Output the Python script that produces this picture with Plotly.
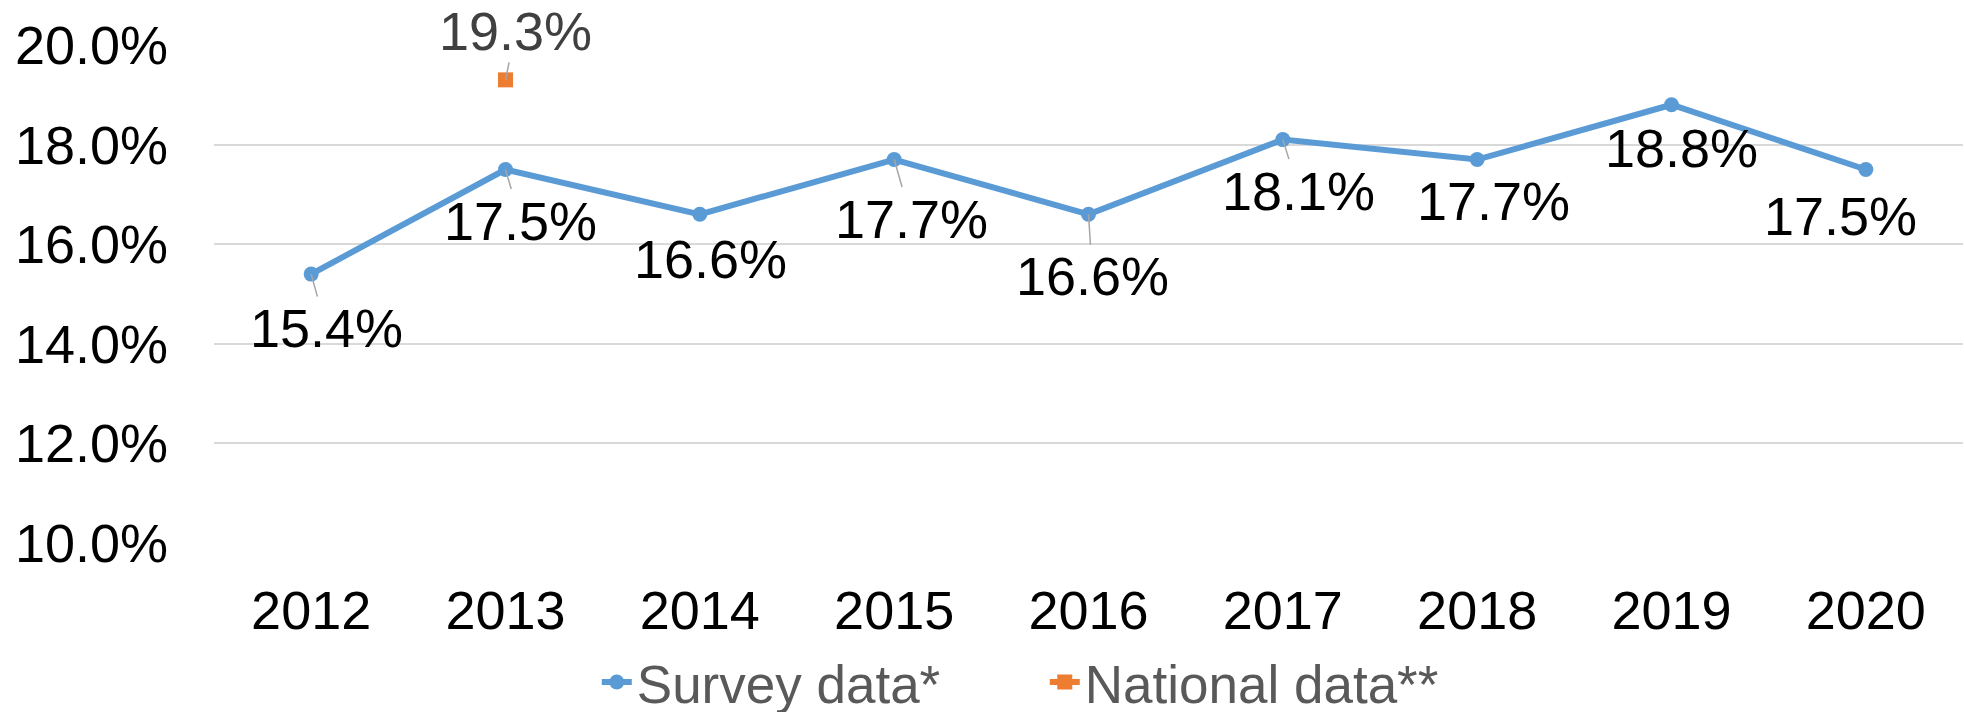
import plotly.graph_objects as go

years = [2012, 2013, 2014, 2015, 2016, 2017, 2018, 2019, 2020]
survey = [0.154, 0.175, 0.166, 0.177, 0.166, 0.181, 0.177, 0.188, 0.175]
national_years = [2013]
national = [0.193]
y_ticks = [0.10, 0.12, 0.14, 0.16, 0.18, 0.20]

# label offsets (px) from the point and whether a leader line is shown
survey_off = [(15, 54), (15, 51), (11, 45), (17, 59), (4, 62), (16, 51), (16, 41), (10, 43), (-25, 46)]
survey_leader = [True, True, False, True, True, True, False, False, False]
national_off = [(10, -49)]

BLUE = "#5B9BD5"
ORANGE = "#ED7D31"
FONT = "Liberation Sans, Arial, sans-serif"
FS = 54

fig = go.Figure()
fig.add_trace(go.Scatter(
    x=years, y=survey, mode="lines+markers", name="Survey data*",
    line=dict(color=BLUE, width=6), marker=dict(color=BLUE, size=15),
    cliponaxis=False,
))
fig.add_trace(go.Scatter(
    x=national_years, y=national, mode="lines+markers", name="National data**",
    line=dict(color=ORANGE, width=6), marker=dict(color=ORANGE, size=15, symbol="square"),
    cliponaxis=False,
))

for x, v, (ax, ay), lead in zip(years, survey, survey_off, survey_leader):
    fig.add_annotation(
        x=x, y=v, text=f"{v*100:.1f}%", showarrow=True, ax=ax, ay=ay,
        arrowhead=0, arrowwidth=1.5,
        arrowcolor="#A6A6A6" if lead else "rgba(0,0,0,0)",
        font=dict(family=FONT, size=FS, color="#000000"),
    )
for x, v, (ax, ay) in zip(national_years, national, national_off):
    fig.add_annotation(
        x=x, y=v, text=f"{v*100:.1f}%", showarrow=True, ax=ax, ay=ay,
        arrowhead=0, arrowwidth=1.5, arrowcolor="#A6A6A6",
        font=dict(family=FONT, size=FS, color="#404040"),
    )

fig.update_layout(
    width=1964, height=712,
    margin=dict(l=214, r=1, t=44, b=168, autoexpand=False),
    paper_bgcolor="white", plot_bgcolor="white",
    font=dict(family=FONT, size=FS, color="#000000"),
    showlegend=True,
    legend=dict(
        orientation="h", x=0.475, xanchor="center", y=-0.276, yanchor="middle",
        font=dict(family=FONT, size=53, color="#595959"),
        bgcolor="rgba(0,0,0,0)", entrywidth=403, entrywidthmode="pixels",
    ),
)
fig.update_xaxes(
    range=[2011.5, 2020.5], tickvals=years, showgrid=False, showline=False, zeroline=False,
    ticks="", ticklabelstandoff=30,
    tickfont=dict(family=FONT, size=FS, color="#000000"),
)
fig.update_yaxes(
    range=[0.0998, 0.2002], tickvals=y_ticks, tickformat=".1%",
    showgrid=True, gridcolor="#D9D9D9", gridwidth=2,
    showline=False, zeroline=False, ticks="", ticklabelstandoff=45,
    tickfont=dict(family=FONT, size=FS, color="#000000"),
)

fig.write_html(
    "out.html",
    config={"displayModeBar": False},
    post_script="document.body.style.margin='0';document.body.style.overflow='hidden';",
)
